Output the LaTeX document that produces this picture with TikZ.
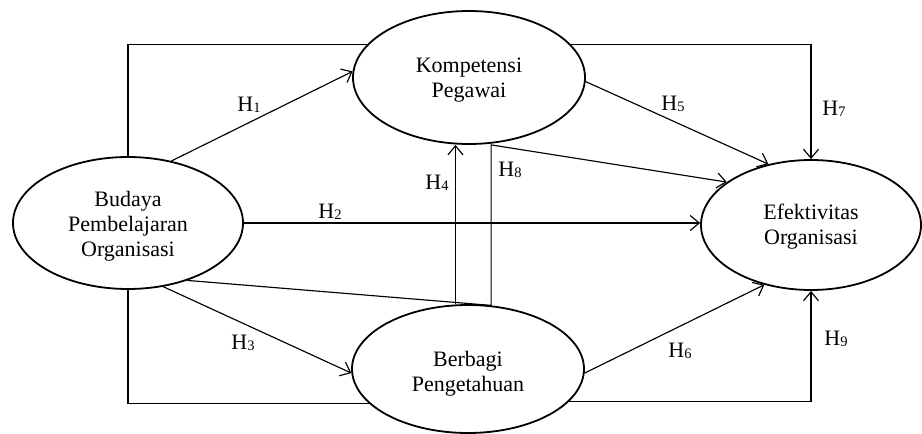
\documentclass[tikz,border=0pt]{standalone}
\usepackage{fontspec}
\setmainfont{Liberation Serif}
\usetikzlibrary{arrows.meta,shapes.geometric}
\newcommand{\hlab}[1]{H{\fontsize{14.5}{14.5}\selectfont\raisebox{-1.5pt}{#1}}}
\begin{document}
\begin{tikzpicture}[x=1pt,y=-1pt,
  latent/.style={ellipse,draw,line width=1.8pt,inner sep=0pt},
  ltext/.style={align=center,inner sep=0pt,font=\fontsize{22}{25}\selectfont},
  conn/.style={line width=1.15pt},
  arr/.style={conn,-{Straight Barb[length=9pt,width=15pt,line width=1.15pt]}},
  lab/.style={font=\fontsize{22}{25}\selectfont,inner sep=0pt}]
\useasboundingbox[fill=white] (0,0) rectangle (922,434);
\node[latent,minimum width=230pt,minimum height=132pt,
  label={[ltext,yshift=-3.5pt]center:{Budaya\\Pembelajaran\\Organisasi}}] (bud) at (128,223) {};
\node[latent,minimum width=232pt,minimum height=133pt,
  label={[ltext,yshift=-2.5pt]center:{Kompetensi\\Pegawai}}] (kom) at (469,77.5) {};
\node[latent,minimum width=220pt,minimum height=130pt,
  label={[ltext,yshift=-2pt]center:{Efektivitas\\Organisasi}}] (efe) at (811,225) {};
\node[latent,minimum width=232pt,minimum height=128pt,
  label={[ltext,yshift=-4.5pt]center:{Berbagi\\Pengetahuan}}] (ber) at (468,369) {};

\draw[conn] (bud.north) |- (kom.162);
\draw[arr] (kom.18) -| (efe.north);
\draw[arr] (bud.55) -- (kom.177);
\draw[arr] (kom.-2) -- (efe.125);
\draw[arr] (bud.east) -- (bud.east -| efe.west);
\draw[arr] (bud.-61) -- (ber.182);
\draw[conn] (bud.south) |- (ber.199);
\draw[arr] (ber.-18) -| (efe.south);
\draw[arr] (ber.-2) -- (efe.232);
\draw[arr] (ber.101) -- (ber.101 |- kom.south);
\draw[arr] (bud.-44) -- (ber.70) -- (ber.70 |- kom.south) -- (efe.153);

\node[lab] (h1) at (249,105) {\hlab{1}};
\node[lab] (h2) at (330,212) {\hlab{2}};
\node[lab] (h3) at (243,343) {\hlab{3}};
\node[lab] (h4) at (437,183) {\hlab{4}};
\node[lab] (h5) at (673,104) {\hlab{5}};
\node[lab] (h6) at (680,351) {\hlab{6}};
\node[lab] (h7) at (834,109) {\hlab{7}};
\node[lab] (h8) at (510,170) {\hlab{8}};
\node[lab] (h9) at (836,339) {\hlab{9}};
\end{tikzpicture}
\end{document}
